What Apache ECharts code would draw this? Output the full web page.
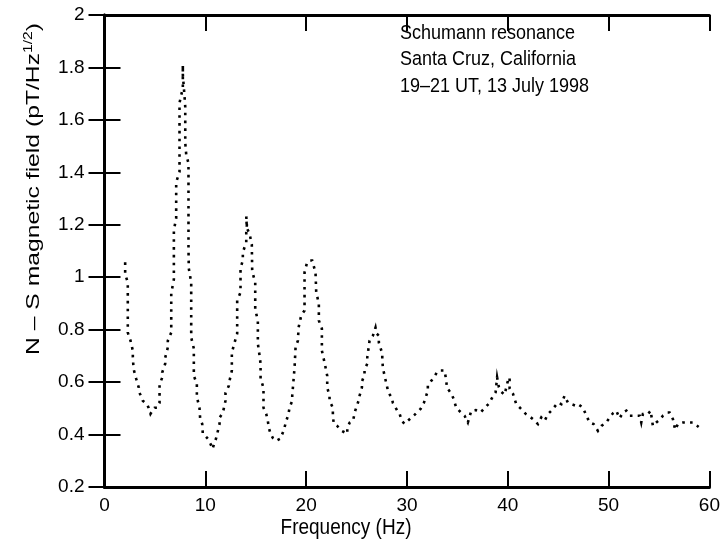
<!DOCTYPE html>
<html>
<head>
<meta charset="utf-8">
<script src="https://cdn.jsdelivr.net/npm/echarts@6/dist/echarts.min.js"></script>
<style>
html,body{margin:0;padding:0;background:#fff;}
#chart{width:723px;height:544px;}
</style>
</head>
<body>
<div id="chart"></div>
<script>
// Frequency (Hz) of each traced point
const freqs = [
 2.05,2.05,2.31,2.31,2.31,2.31,2.58,2.81,2.81,2.88,
 3.14,3.40,3.47,3.74,3.80,4.24,4.37,4.56,4.79,4.96,
 5.23,5.46,5.46,5.72,5.72,6.02,6.02,6.28,6.28,6.62,
 6.62,6.62,6.88,6.88,6.88,7.11,7.11,7.44,7.44,7.44,
 7.44,7.77,7.77,7.77,7.94,8.01,8.01,8.11,8.33,8.33,
 8.33,8.36,8.60,8.60,8.86,8.86,9.16,9.16,9.42,9.49,
 9.69,9.75,9.99,10.25,10.52,10.71,11.08,11.41,11.41,11.74,
 12.00,12.00,12.33,12.40,12.63,12.63,12.90,13.16,13.16,13.49,
 13.49,13.72,13.72,14.06,14.06,14.12,14.06,14.12,14.38,14.61,
 14.65,14.95,14.95,15.21,15.21,15.38,15.48,15.48,15.77,15.77,
 16.04,16.20,16.30,16.47,16.70,17.03,17.43,17.76,18.03,18.25,
 18.35,18.62,18.62,18.85,18.95,19.18,19.25,19.51,19.84,19.84,
 19.84,20.07,20.34,20.60,20.93,21.00,21.26,21.26,21.56,21.56,
 21.83,22.09,22.09,22.32,22.32,22.65,22.65,22.75,23.08,23.54,
 24.08,24.08,24.31,24.64,24.87,25.20,25.30,25.53,25.53,25.79,
 25.79,26.06,26.06,26.29,26.62,26.88,26.99,27.21,27.21,27.55,
 27.55,27.61,27.78,28.05,28.11,28.50,28.60,29.04,29.27,29.49,
 29.76,30.43,30.75,31.35,31.68,32.07,32.07,32.41,32.67,33.01,
 33.33,33.73,33.90,33.96,34.40,34.62,34.89,35.39,35.71,36.04,
 36.14,36.38,36.83,37.30,37.75,38.15,38.49,38.79,38.94,39.12,
 39.36,39.68,40.01,40.18,40.18,40.51,40.84,41.34,41.77,42.06,
 42.49,42.99,43.32,43.65,43.98,44.32,44.97,45.31,45.63,45.80,
 45.96,46.30,46.73,46.96,47.45,47.79,48.12,48.51,48.94,49.28,
 49.77,50.10,50.43,50.76,51.09,51.42,51.76,52.08,52.58,53.08,
 53.24,53.40,53.90,54.17,54.39,54.73,55.06,55.39,55.85,56.05,
 56.38,56.60,56.88,57.37,57.87,58.36,58.93
];
// N-S magnetic field (pT/Hz^1/2) at each traced point
const fieldValues = [
 1.057,1.011,0.980,0.911,0.835,0.789,0.758,0.720,0.697,0.651,
 0.613,0.579,0.559,0.537,0.529,0.514,0.502,0.479,0.494,0.502,
 0.502,0.521,0.590,0.617,0.636,0.670,0.693,0.732,0.758,0.789,
 0.854,0.938,0.992,1.099,1.179,1.225,1.363,1.401,1.512,1.580,
 1.665,1.722,1.810,1.772,1.688,1.649,1.512,1.466,1.435,1.301,
 1.110,1.034,0.980,0.770,0.728,0.624,0.594,0.544,0.502,0.460,
 0.441,0.403,0.395,0.384,0.364,0.345,0.387,0.441,0.464,0.483,
 0.529,0.559,0.586,0.605,0.644,0.712,0.751,0.785,0.911,0.942,
 1.034,1.064,1.095,1.133,1.171,1.198,1.232,1.187,1.167,1.125,
 1.022,0.980,0.877,0.835,0.747,0.701,0.670,0.613,0.579,0.502,
 0.479,0.452,0.426,0.403,0.387,0.376,0.384,0.414,0.452,0.479,
 0.502,0.529,0.548,0.655,0.732,0.758,0.808,0.854,0.873,0.961,
 1.018,1.053,1.064,1.064,1.018,0.942,0.900,0.835,0.804,0.720,
 0.674,0.624,0.579,0.548,0.529,0.502,0.468,0.441,0.433,0.414,
 0.403,0.426,0.445,0.452,0.491,0.529,0.548,0.579,0.602,0.628,
 0.647,0.670,0.693,0.758,0.777,0.808,0.785,0.777,0.751,0.709,
 0.689,0.655,0.624,0.579,0.563,0.540,0.521,0.491,0.479,0.452,
 0.441,0.464,0.475,0.498,0.521,0.567,0.586,0.605,0.617,0.640,
 0.644,0.644,0.605,0.579,0.556,0.537,0.502,0.483,0.472,0.446,
 0.445,0.491,0.493,0.484,0.503,0.519,0.544,0.561,0.618,0.580,
 0.563,0.552,0.605,0.618,0.575,0.556,0.516,0.497,0.479,0.472,
 0.459,0.440,0.465,0.452,0.478,0.491,0.522,0.516,0.548,0.548,
 0.522,0.516,0.510,0.516,0.503,0.472,0.446,0.440,0.414,0.433,
 0.446,0.465,0.481,0.491,0.462,0.484,0.491,0.472,0.472,0.472,
 0.446,0.478,0.478,0.491,0.433,0.446,0.456,0.472,0.484,0.484,
 0.459,0.418,0.440,0.446,0.446,0.446,0.429
];
const xTicks = [0, 10, 20, 30, 40, 50, 60];
const yTicks = [0.2, 0.4, 0.6, 0.8, 1, 1.2, 1.4, 1.6, 1.8, 2];
const annotationLines = ['Schumann resonance', 'Santa Cruz, California', '19\u201321 UT, 13 July 1998'];
const xTitle = 'Frequency (Hz)';
const yTitleMain = 'N \u2013 S magnetic field (pT/Hz';
const yTitleSup = '1/2';

const n = Math.min(freqs.length, fieldValues.length);
const seriesData = [];
for (let i = 0; i < n; i++) seriesData.push([freqs[i], fieldValues[i]]);

const FONT = '"Liberation Sans", Arial, Helvetica, sans-serif';
const chart = echarts.init(document.getElementById('chart'), null, {renderer: 'canvas'});

const axisCommon = {
  axisLine: {show: true, lineStyle: {color: '#000', width: 3}},
  axisTick: {show: true, inside: true, length: 16, lineStyle: {color: '#000', width: 2}},
  splitLine: {show: false},
  minorTick: {show: false}
};

const graphics = annotationLines.map((t, i) => ({
  type: 'text', x: 400, y: 33 + i * 26.5, scaleY: 1.15,
  style: {text: t, fill: '#000', font: '18px ' + FONT, textAlign: 'left', textVerticalAlign: 'middle'}
}));
graphics.push({type: 'text', x: 346, y: 528, scaleY: 1.12,
  style: {text: xTitle, fill: '#000', font: '19px ' + FONT, textAlign: 'center', textVerticalAlign: 'middle'}});
graphics.push({type: 'text', x: 33, y: 189, rotation: Math.PI / 2, scaleX: 1.3,
  style: {
    text: '{a|' + yTitleMain + '}{s|' + yTitleSup + '}{a|)}',
    textAlign: 'center', textVerticalAlign: 'middle',
    rich: {
      a: {fontSize: 19, fontFamily: FONT, fill: '#000', lineHeight: 21, verticalAlign: 'bottom'},
      s: {fontSize: 12, fontFamily: FONT, fill: '#000', lineHeight: 12, verticalAlign: 'top'}
    }
  }});

const option = {
  animation: false,
  backgroundColor: '#fff',
  grid: {left: 104.5, right: 13, top: 15, bottom: 57, containLabel: false},
  xAxis: [
    Object.assign({}, axisCommon, {
      type: 'value', position: 'bottom', min: xTicks[0], max: xTicks[xTicks.length - 1], interval: 10,
      axisLabel: {show: true, color: '#000', fontSize: 19, fontFamily: FONT, margin: 9}
    }),
    Object.assign({}, axisCommon, {
      type: 'value', position: 'top', min: xTicks[0], max: xTicks[xTicks.length - 1], interval: 10,
      axisLabel: {show: false}
    })
  ],
  yAxis: [
    Object.assign({}, axisCommon, {
      type: 'value', position: 'left', min: yTicks[0], max: yTicks[yTicks.length - 1], interval: 0.2,
      axisLabel: {show: true, color: '#000', fontSize: 19, fontFamily: FONT, margin: 20,
        formatter: v => String(+v.toFixed(1))}
    }),
    Object.assign({}, axisCommon, {
      type: 'value', position: 'right', min: yTicks[0], max: yTicks[yTicks.length - 1], interval: 0.2,
      axisLabel: {show: false}
    })
  ],
  series: [{
    type: 'line',
    xAxisIndex: 0, yAxisIndex: 0,
    data: seriesData,
    showSymbol: false,
    symbol: 'none',
    smooth: false,
    lineStyle: {color: '#000', width: 2.6, type: [2.6, 5.2], cap: 'butt', join: 'miter'},
    silent: true
  }],
  graphic: graphics
};
chart.setOption(option);
</script>
</body>
</html>
